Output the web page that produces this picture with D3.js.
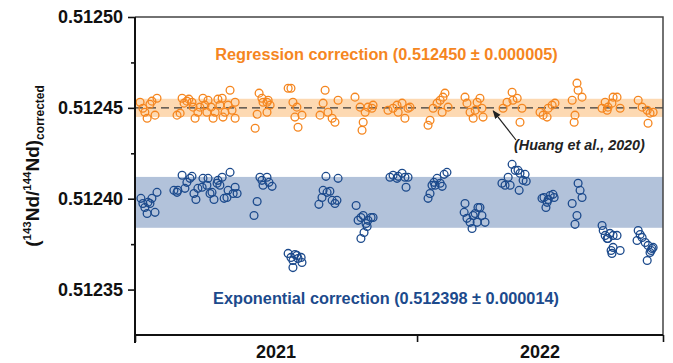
<!DOCTYPE html>
<html>
<head>
<meta charset="utf-8">
<script src="https://cdn.jsdelivr.net/npm/d3@7"></script>
<style>
  html, body { margin: 0; padding: 0; background: #fff; }
  svg { display: block; font-family: "Liberation Sans", Arial, sans-serif; }
</style>
</head>
<body>
<svg id="chart" width="673" height="363"></svg>
<script>
// ---------------- DATA ----------------
const yearLabels = ["2021", "2022"];
const yearStarts = [2021, 2022];
const xEnd = 2022.872;
const yMajorTicks = [0.51235, 0.51240, 0.51245, 0.51250];
const yMinorTicks = [0.512375, 0.512425, 0.512475];
const yDomain = [0.512325, 0.5125];

const referenceValue = 0.51245;          // Huang et al., 2020
const regressionMean = 0.512450, regressionSD = 0.000005;
const exponentialMean = 0.512398, exponentialSD = 0.000014;

const regressionLabel = "Regression correction (0.512450 \u00b1 0.000005)";
const exponentialLabel = "Exponential correction (0.512398 \u00b1 0.000014)";
const referenceLabel = "(Huang et al., 2020)";

// Regression-corrected results [decimal year, 143Nd/144Nd]
const regression = [
  [2021.018,0.5124531],[2021.028,0.5124498],[2021.043,0.5124443],[2021.053,0.5124520],[2021.060,0.5124537],[2021.071,0.5124460],[2021.078,0.5124553],[2021.035,0.5124476],
  [2021.149,0.5124460],[2021.160,0.5124471],[2021.167,0.5124553],[2021.174,0.5124526],[2021.184,0.5124537],[2021.191,0.5124548],[2021.202,0.5124531],[2021.206,0.5124504],
  [2021.213,0.5124443],[2021.223,0.5124476],[2021.230,0.5124504],[2021.241,0.5124553],[2021.248,0.5124515],[2021.255,0.5124476],[2021.259,0.5124542],[2021.270,0.5124504],
  [2021.277,0.5124443],[2021.284,0.5124476],[2021.294,0.5124548],[2021.301,0.5124515],[2021.309,0.5124553],[2021.312,0.5124449],[2021.319,0.5124476],[2021.330,0.5124515],
  [2021.337,0.5124597],[2021.344,0.5124487],[2021.355,0.5124443],[2021.355,0.5124531],
  [2021.426,0.5124388],[2021.433,0.5124465],[2021.440,0.5124581],[2021.450,0.5124553],[2021.454,0.5124531],[2021.468,0.5124531],[2021.472,0.5124542],[2021.479,0.5124515],[2021.468,0.5124476],
  [2021.543,0.5124608],[2021.553,0.5124608],[2021.560,0.5124531],[2021.574,0.5124504],[2021.567,0.5124449],[2021.578,0.5124393],[2021.592,0.5124460],
  [2021.656,0.5124460],[2021.667,0.5124526],[2021.674,0.5124597],[2021.684,0.5124476],[2021.699,0.5124443],[2021.709,0.5124421],[2021.720,0.5124542],
  [2021.780,0.5124559],[2021.798,0.5124504],[2021.809,0.5124421],[2021.805,0.5124377],[2021.816,0.5124476],[2021.826,0.5124504],[2021.840,0.5124498],[2021.844,0.5124515],
  [2021.897,0.5124487],[2021.915,0.5124498],[2021.929,0.5124515],[2021.947,0.5124526],[2021.957,0.5124443],[2021.968,0.5124498],[2021.975,0.5124504],[2021.933,0.5124476],
  [2022.039,0.5124404],[2022.046,0.5124432],[2022.057,0.5124498],[2022.071,0.5124526],[2022.082,0.5124542],[2022.092,0.5124559],[2022.099,0.5124581],[2022.089,0.5124476],[2022.110,0.5124504],
  [2022.170,0.5124559],[2022.177,0.5124526],[2022.188,0.5124476],[2022.199,0.5124443],[2022.213,0.5124531],[2022.223,0.5124553],[2022.230,0.5124498],[2022.234,0.5124449],[2022.206,0.5124487],
  [2022.305,0.5124498],[2022.319,0.5124531],[2022.337,0.5124586],[2022.340,0.5124542],[2022.355,0.5124553],[2022.365,0.5124421],[2022.372,0.5124498],
  [2022.436,0.5124476],[2022.447,0.5124460],[2022.461,0.5124449],[2022.465,0.5124498],[2022.479,0.5124515],[2022.489,0.5124526],
  [2022.550,0.5124542],[2022.560,0.5124460],[2022.557,0.5124421],[2022.567,0.5124636],[2022.571,0.5124597],[2022.585,0.5124559],
  [2022.656,0.5124498],[2022.667,0.5124531],[2022.677,0.5124504],[2022.691,0.5124526],[2022.695,0.5124559],[2022.709,0.5124559],[2022.720,0.5124498],[2022.674,0.5124487],
  [2022.784,0.5124542],[2022.798,0.5124504],[2022.816,0.5124487],[2022.826,0.5124471],[2022.819,0.5124415],[2022.837,0.5124476]
];

// Exponential-corrected results [decimal year, 143Nd/144Nd]
const exponential = [
  [2021.021,0.5124002],[2021.028,0.5123974],[2021.035,0.5123952],[2021.043,0.5123919],[2021.053,0.5123974],[2021.060,0.5124002],[2021.071,0.5123925],[2021.078,0.5124035],[2021.046,0.5123980],
  [2021.138,0.5124046],[2021.149,0.5124035],[2021.152,0.5124046],[2021.167,0.5124129],[2021.177,0.5124057],[2021.184,0.5124090],[2021.195,0.5124112],[2021.202,0.5124123],
  [2021.209,0.5124029],[2021.216,0.5123996],[2021.223,0.5124057],[2021.238,0.5124063],[2021.241,0.5124112],[2021.255,0.5124074],[2021.259,0.5124112],[2021.266,0.5124029],
  [2021.273,0.5124035],[2021.280,0.5123996],[2021.291,0.5124085],[2021.294,0.5124101],[2021.301,0.5124074],[2021.309,0.5124118],[2021.316,0.5124002],[2021.326,0.5124007],
  [2021.330,0.5124046],[2021.337,0.5124145],[2021.348,0.5124029],[2021.355,0.5124063],[2021.362,0.5124029],
  [2021.443,0.5124118],[2021.450,0.5124101],[2021.454,0.5124074],[2021.433,0.5123985],[2021.422,0.5123908],[2021.468,0.5124118],[2021.475,0.5124090],[2021.486,0.5124068],
  [2021.543,0.5123699],[2021.553,0.5123677],[2021.560,0.5123660],[2021.574,0.5123688],[2021.578,0.5123671],[2021.589,0.5123677],[2021.592,0.5123649],[2021.560,0.5123621],[2021.567,0.5123693],
  [2021.677,0.5124123],[2021.720,0.5124112],[2021.667,0.5124046],[2021.681,0.5124035],[2021.691,0.5124041],[2021.663,0.5124007],[2021.652,0.5123969],[2021.699,0.5123991],[2021.709,0.5123974],[2021.716,0.5123991],
  [2021.784,0.5123963],[2021.791,0.5123881],[2021.801,0.5123897],[2021.809,0.5123908],[2021.819,0.5123864],[2021.826,0.5123881],[2021.837,0.5123897],[2021.844,0.5123897],[2021.812,0.5123814],[2021.801,0.5123781],[2021.823,0.5123847],
  [2021.904,0.5124118],[2021.915,0.5124129],[2021.929,0.5124112],[2021.933,0.5124123],[2021.947,0.5124140],[2021.957,0.5124118],[2021.968,0.5124118],[2021.961,0.5124063],
  [2022.039,0.5124002],[2022.046,0.5124029],[2022.053,0.5124074],[2022.060,0.5124090],[2022.071,0.5124112],[2022.082,0.5124085],[2022.089,0.5124068],[2022.096,0.5124134],[2022.106,0.5124145],[2022.064,0.5124074],
  [2022.170,0.5123974],[2022.167,0.5123925],[2022.177,0.5123892],[2022.188,0.5123870],[2022.195,0.5123836],[2022.206,0.5123919],[2022.216,0.5123952],[2022.223,0.5123952],[2022.230,0.5123908],[2022.241,0.5123870],[2022.213,0.5123870],[2022.199,0.5123908],
  [2022.301,0.5124085],[2022.312,0.5124074],[2022.323,0.5124118],[2022.330,0.5124074],[2022.337,0.5124189],[2022.348,0.5124156],[2022.358,0.5124156],[2022.365,0.5124140],[2022.376,0.5124101],[2022.362,0.5124046],[2022.383,0.5124134],[2022.387,0.5124096],
  [2022.443,0.5124002],[2022.450,0.5124007],[2022.457,0.5123952],[2022.465,0.5123996],[2022.472,0.5124018],[2022.482,0.5124024],[2022.486,0.5124007],[2022.461,0.5123980],
  [2022.550,0.5123974],[2022.560,0.5123859],[2022.567,0.5123908],[2022.571,0.5124085],[2022.578,0.5124046],[2022.585,0.5124007],
  [2022.656,0.5123853],[2022.660,0.5123825],[2022.667,0.5123798],[2022.674,0.5123781],[2022.684,0.5123809],[2022.695,0.5123798],[2022.709,0.5123798],[2022.688,0.5123715],[2022.695,0.5123732],[2022.720,0.5123715],[2022.691,0.5123699],[2022.677,0.5123781],
  [2022.784,0.5123825],[2022.791,0.5123803],[2022.798,0.5123787],[2022.780,0.5123770],[2022.809,0.5123759],[2022.819,0.5123743],[2022.833,0.5123726],[2022.826,0.5123704],[2022.816,0.5123660],[2022.837,0.5123732],[2022.830,0.5123715]
];

// ---------------- CHART ----------------
const W = 673, H = 363;
const margin = { left: 135, right: 10, top: 17, bottom: 28 };
const orange = "#f5861f", orangeBand = "#fdd9b2";
const blue = "#1c4a8c", blueBand = "#b2c2da";

const svg = d3.select("#chart");
const x = d3.scaleLinear().domain([yearStarts[0], xEnd]).range([margin.left, W - margin.right]);
const y = d3.scaleLinear().domain(yDomain).range([H - margin.bottom, margin.top]);

// bands
svg.append("rect")
  .attr("x", x.range()[0]).attr("width", x.range()[1] - x.range()[0])
  .attr("y", y(regressionMean + regressionSD))
  .attr("height", y(regressionMean - regressionSD) - y(regressionMean + regressionSD))
  .attr("fill", orangeBand);
svg.append("rect")
  .attr("x", x.range()[0]).attr("width", x.range()[1] - x.range()[0])
  .attr("y", y(exponentialMean + exponentialSD))
  .attr("height", y(exponentialMean - exponentialSD) - y(exponentialMean + exponentialSD))
  .attr("fill", blueBand);

// reference dashed line
svg.append("line")
  .attr("x1", x.range()[0]).attr("x2", x.range()[1])
  .attr("y1", y(referenceValue)).attr("y2", y(referenceValue))
  .attr("stroke", "#3a3a3a").attr("stroke-width", 1.4)
  .attr("stroke-dasharray", "8,5");

// points
svg.append("g").selectAll("circle").data(regression).join("circle")
  .attr("cx", d => x(d[0])).attr("cy", d => y(d[1])).attr("r", 3.9)
  .attr("fill", "none").attr("stroke", orange).attr("stroke-width", 1.3);
svg.append("g").selectAll("circle").data(exponential).join("circle")
  .attr("cx", d => x(d[0])).attr("cy", d => y(d[1])).attr("r", 3.9)
  .attr("fill", "none").attr("stroke", blue).attr("stroke-width", 1.3);

// frame (top & right)
svg.append("path")
  .attr("d", `M${x.range()[0]},${margin.top}H${x.range()[1]}V${H - margin.bottom}`)
  .attr("fill", "none").attr("stroke", "#444").attr("stroke-width", 1.5);

// y axis
const yAxis = svg.append("g").attr("transform", `translate(${margin.left},0)`)
  .call(d3.axisLeft(y).tickValues(yMajorTicks).tickFormat(d3.format(".5f")).tickSize(7).tickPadding(5));
svg.append("g").attr("transform", `translate(${margin.left},0)`)
  .call(d3.axisLeft(y).tickValues(yMinorTicks).tickFormat("").tickSize(4))
  .call(g => g.select(".domain").remove());
yAxis.select(".domain").attr("d", `M0,${margin.top}V${H - margin.bottom + 8}`);
svg.selectAll(".tick line").attr("stroke", "#111").attr("stroke-width", 1.6);
yAxis.select(".domain").attr("stroke", "#111").attr("stroke-width", 2);
yAxis.selectAll("text")
  .attr("font-size", 18).attr("font-weight", "bold").attr("fill", "#111")
  .attr("font-family", "'Liberation Sans', Arial, sans-serif");

// x axis
const xAxis = svg.append("g").attr("transform", `translate(0,${H - margin.bottom})`)
  .call(d3.axisBottom(x).tickValues([...yearStarts, xEnd]).tickFormat("").tickSize(7));
xAxis.select(".domain").attr("stroke", "#111").attr("stroke-width", 2)
  .attr("d", `M${x.range()[0]},0H${x.range()[1]}`);
xAxis.selectAll(".tick line").attr("stroke", "#111").attr("stroke-width", 1.6);
const bounds = [...yearStarts, xEnd];
svg.append("g").selectAll("text").data(yearLabels).join("text")
  .attr("x", (d, i) => (x(bounds[i]) + x(bounds[i + 1])) / 2)
  .attr("y", H - 5)
  .attr("text-anchor", "middle")
  .attr("font-size", 18).attr("font-weight", "bold").attr("fill", "#111")
  .text(d => d);

// helper to fit text width
function fitText(sel, target) {
  const len = sel.node().getComputedTextLength();
  const fs = parseFloat(sel.attr("font-size"));
  sel.attr("font-size", fs * target / len);
}

// series labels
const t1 = svg.append("text")
  .attr("x", 386.5).attr("y", 60).attr("text-anchor", "middle")
  .attr("font-size", 16).attr("font-weight", "bold").attr("fill", orange)
  .text(regressionLabel);
fitText(t1, 343);
const t2 = svg.append("text")
  .attr("x", 386).attr("y", 304).attr("text-anchor", "middle")
  .attr("font-size", 16).attr("font-weight", "bold").attr("fill", blue)
  .text(exponentialLabel);
fitText(t2, 346);

// annotation
const t3 = svg.append("text")
  .attr("x", 514).attr("y", 150)
  .attr("font-size", 14).attr("font-weight", "bold").attr("font-style", "italic").attr("fill", "#222")
  .text(referenceLabel);
fitText(t3, 131);

svg.append("defs").append("marker")
  .attr("id", "arrow").attr("viewBox", "0 0 10 10").attr("refX", 9).attr("refY", 5)
  .attr("markerWidth", 7).attr("markerHeight", 7).attr("orient", "auto")
  .append("path").attr("d", "M0,1L10,5L0,9Z").attr("fill", "#222");
svg.append("line")
  .attr("x1", 516).attr("y1", 140)
  .attr("x2", x(2022.27)).attr("y2", y(referenceValue) + 3)
  .attr("stroke", "#222").attr("stroke-width", 1.2)
  .attr("marker-end", "url(#arrow)");

// y axis title
const yt = svg.append("text")
  .attr("transform", "translate(39,166) rotate(-90)")
  .attr("text-anchor", "middle")
  .attr("font-weight", "bold").attr("fill", "#111").attr("font-size", 19);
yt.append("tspan").text("(");
yt.append("tspan").attr("font-size", 11.5).attr("dy", -8).text("143");
yt.append("tspan").attr("dy", 8).text("Nd/");
yt.append("tspan").attr("font-size", 11.5).attr("dy", -8).text("144");
yt.append("tspan").attr("dy", 8).text("Nd)");
yt.append("tspan").attr("font-size", 12).attr("dy", 5).text("corrected");
</script>
</body>
</html>
